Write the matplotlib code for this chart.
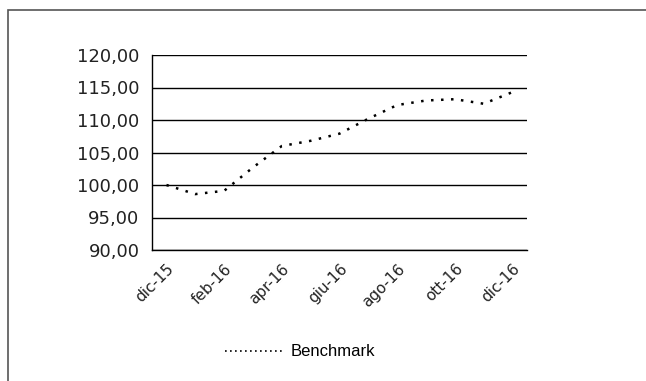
import matplotlib
matplotlib.use("Agg")
import matplotlib.pyplot as plt
from matplotlib.patches import Rectangle
from matplotlib.lines import Line2D

# Dati mensili (dic-15 .. dic-16)
mesi = ["dic-15", "gen-16", "feb-16", "mar-16", "apr-16", "mag-16", "giu-16",
        "lug-16", "ago-16", "set-16", "ott-16", "nov-16", "dic-16"]
benchmark = [100.0, 98.6, 99.1, 102.7, 106.0, 106.8, 107.9,
             110.2, 112.3, 113.0, 113.2, 112.5, 114.3]
y_ticks = [90, 95, 100, 105, 110, 115, 120]

fig = plt.figure(figsize=(6.46, 3.81), dpi=100)
W, H = 646, 381
ax = fig.add_axes([152 / W, 1 - 250 / H, 375 / W, 195 / H])

x = list(range(len(mesi)))
ax.plot(x, benchmark, color="black", linestyle=(0, (1, 3)), linewidth=1.8,
        dash_capstyle="butt")

ax.set_xlim(-0.5, len(mesi) - 0.5)
ax.set_ylim(90, 120)
ax.set_yticks(y_ticks)
ax.set_yticklabels([f"{v:.2f}".replace(".", ",") for v in y_ticks],
                   fontsize=13, color="#222222")
ax.set_xticks(x[::2])
ax.set_xticklabels(mesi[::2], rotation=45, ha="right", va="top",
                   rotation_mode="anchor", fontsize=11, color="#222222")
ax.tick_params(length=0, pad=9)
ax.tick_params(axis="x", pad=8)

ax.grid(axis="y", color="black", linewidth=1)
ax.axhline(90, color="black", linewidth=1, clip_on=False)
ax.set_axisbelow(True)
for s in ["top", "right", "bottom"]:
    ax.spines[s].set_visible(False)
ax.spines["left"].set_color("black")
ax.spines["left"].set_linewidth(1)

handle = Line2D([], [], color="black", linestyle=(0, (1, 2)), linewidth=1.2,
                dash_capstyle="butt")
fig.legend([handle], ["Benchmark"], loc="center",
           bbox_to_anchor=(300 / W, 1 - 352 / H), frameon=False,
           prop={"family": "Liberation Sans", "size": 12},
           handlelength=3.6, handletextpad=0.3)

# cornice del grafico (visibili solo i lati superiore e sinistro)
fig.patches.append(Rectangle((8 / W, -0.1), 1.2, 1 - 9.5 / H + 0.1,
                             transform=fig.transFigure, fill=False,
                             edgecolor="#555555", linewidth=1.2))

fig.savefig("out.png", dpi=100)
